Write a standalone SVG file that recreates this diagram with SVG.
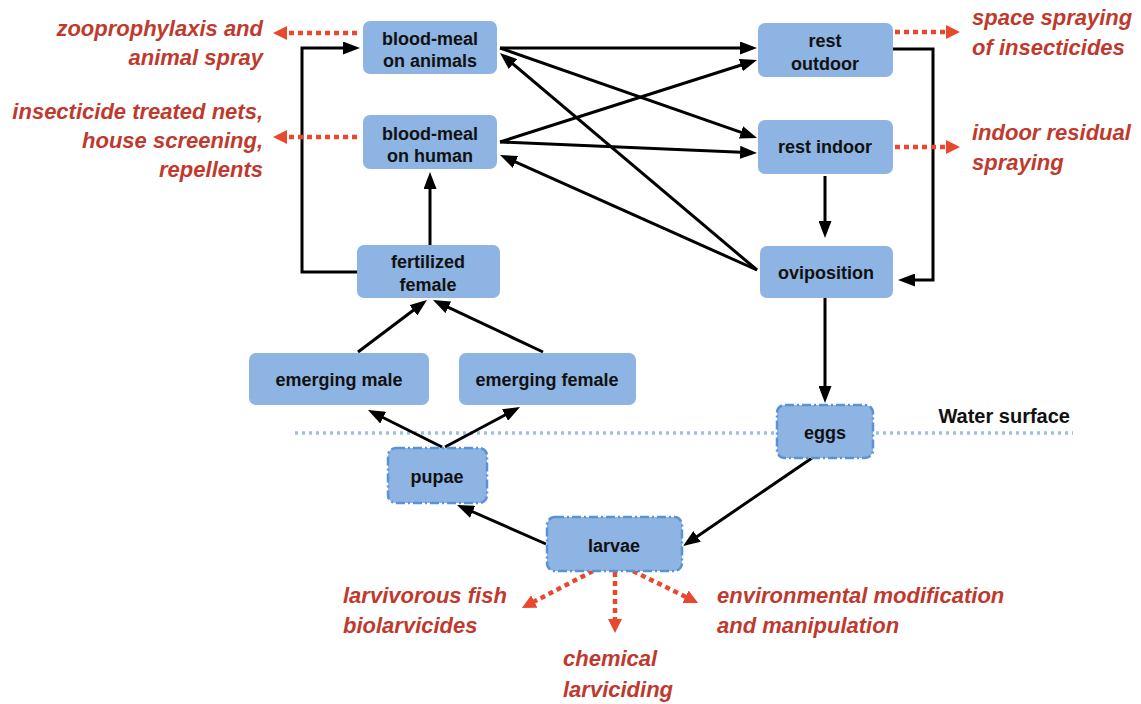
<svg xmlns="http://www.w3.org/2000/svg" width="1141" height="704" viewBox="0 0 1141 704">
<defs>
<style>
.box{fill:#8DB4E2;}
.dbox{fill:#8DB4E2;stroke:#5A92D2;stroke-width:2.5;stroke-dasharray:9 3 2 3;}
.lbl{font-family:"Liberation Sans",Arial,sans-serif;font-weight:bold;font-size:18px;fill:#111;text-anchor:middle;}
.ctl{font-family:"Liberation Sans",Arial,sans-serif;font-weight:bold;font-style:italic;font-size:22px;fill:#BF3A2E;}
.end{text-anchor:end;}
.blk{fill:none;stroke:#000;stroke-width:3;marker-end:url(#ah);}
.red{fill:none;stroke:#E8492E;stroke-width:4.5;stroke-dasharray:5 4;marker-end:url(#rh);}
.water{fill:none;stroke:#9DC0E4;stroke-width:3.5;stroke-dasharray:3 4;}
</style>
<marker id="ah" markerUnits="userSpaceOnUse" markerWidth="17" markerHeight="13" refX="7" refY="6.5" orient="auto">
<path d="M0,0 L17,6.5 L0,13 z" fill="#000"/>
</marker>
<marker id="rh" markerUnits="userSpaceOnUse" markerWidth="14" markerHeight="14" refX="4" refY="7" orient="auto">
<path d="M0,0 L14,7 L0,14 z" fill="#E8492E"/>
</marker>
</defs>
<rect width="1141" height="704" fill="#fff"/>

<line id="water-line" class="water" x1="295" y1="433" x2="1073" y2="433"/>
<text x="1070" y="423" style="font-family:'Liberation Sans',Arial,sans-serif;font-weight:bold;font-size:20px;fill:#111;text-anchor:end;">Water surface</text>

<g id="connectors">
<line class="blk" x1="500" y1="48" x2="747" y2="48"/>
<line class="blk" x1="500" y1="48" x2="747.6" y2="134.7"/>
<line class="blk" x1="757" y1="270" x2="507.6" y2="59.5"/>
<line class="blk" x1="500" y1="142" x2="747.5" y2="63"/>
<line class="blk" x1="500" y1="142" x2="747" y2="152.6"/>
<line class="blk" x1="757" y1="270" x2="509.1" y2="159.1"/>
<path class="blk" d="M893,49 H933 V280 H908"/>
<line class="blk" x1="825" y1="176" x2="825" y2="228"/>
<line class="blk" x1="825" y1="298" x2="825" y2="393"/>
<line class="blk" x1="812" y1="458" x2="691.3" y2="540.4"/>
<line class="blk" x1="546" y1="544" x2="466.2" y2="509"/>
<line class="blk" x1="442" y1="447" x2="376.9" y2="414.5"/>
<line class="blk" x1="445" y1="447" x2="511.2" y2="411.7"/>
<line class="blk" x1="358" y1="352" x2="419" y2="306"/>
<line class="blk" x1="543" y1="352" x2="442" y2="304.3"/>
<line class="blk" x1="430" y1="245" x2="430" y2="182"/>
<path class="blk" d="M358,272 H302 V48 H350"/>
<line class="red" x1="357" y1="33" x2="283" y2="33"/>
<line class="red" x1="357" y1="137" x2="283" y2="137"/>
<line class="red" x1="895" y1="32" x2="950" y2="32"/>
<line class="red" x1="895" y1="147" x2="950" y2="147"/>
<line class="red" x1="593" y1="571" x2="530.8" y2="603.3"/>
<line class="red" x1="615" y1="572" x2="615" y2="623"/>
<line class="red" x1="633" y1="571" x2="689.1" y2="598.5"/>
</g>

<g id="blood-meal-animals">
<rect class="box" x="363" y="21" width="134" height="53" rx="7"/>
<text class="lbl" x="430" y="45">blood-meal</text>
<text class="lbl" x="430" y="67">on animals</text>
</g>
<g id="blood-meal-human">
<rect class="box" x="363" y="115" width="134" height="54" rx="7"/>
<text class="lbl" x="430" y="140">blood-meal</text>
<text class="lbl" x="430" y="162">on human</text>
</g>
<g id="rest-outdoor">
<rect class="box" x="758" y="23" width="135" height="54" rx="7"/>
<text class="lbl" x="825" y="47">rest</text>
<text class="lbl" x="825" y="70">outdoor</text>
</g>
<g id="rest-indoor">
<rect class="box" x="758" y="120" width="135" height="54" rx="7"/>
<text class="lbl" x="825" y="153">rest indoor</text>
</g>
<g id="oviposition">
<rect class="box" x="760" y="246" width="133" height="52" rx="7"/>
<text class="lbl" x="826" y="279">oviposition</text>
</g>
<g id="fertilized-female">
<rect class="box" x="357" y="245" width="143" height="53" rx="7"/>
<text class="lbl" x="428" y="268">fertilized</text>
<text class="lbl" x="428" y="291">female</text>
</g>
<g id="emerging-male">
<rect class="box" x="249" y="353" width="180" height="52" rx="7"/>
<text class="lbl" x="339" y="386">emerging male</text>
</g>
<g id="emerging-female">
<rect class="box" x="459" y="353" width="177" height="52" rx="7"/>
<text class="lbl" x="547" y="386">emerging female</text>
</g>
<g id="eggs">
<rect class="dbox" x="777" y="405" width="96" height="53" rx="8"/>
<text class="lbl" x="825" y="439">eggs</text>
</g>
<g id="pupae">
<rect class="dbox" x="388" y="448" width="99" height="55" rx="8"/>
<text class="lbl" x="437" y="483">pupae</text>
</g>
<g id="larvae">
<rect class="dbox" x="547" y="517" width="135" height="54" rx="8"/>
<text class="lbl" x="614" y="552">larvae</text>
</g>

<g id="control-labels">
<text class="ctl end" x="263" y="36">zooprophylaxis and</text>
<text class="ctl end" x="263" y="65">animal spray</text>
<text class="ctl end" x="263" y="119">insecticide treated nets,</text>
<text class="ctl end" x="263" y="148">house screening,</text>
<text class="ctl end" x="263" y="177">repellents</text>
<text class="ctl" x="972" y="25">space spraying</text>
<text class="ctl" x="972" y="55">of insecticides</text>
<text class="ctl" x="972" y="140">indoor residual</text>
<text class="ctl" x="972" y="170">spraying</text>
<text class="ctl" x="343" y="603">larvivorous fish</text>
<text class="ctl" x="343" y="633">biolarvicides</text>
<text class="ctl" x="563" y="666">chemical</text>
<text class="ctl" x="563" y="697">larviciding</text>
<text class="ctl" x="717" y="603">environmental modification</text>
<text class="ctl" x="717" y="633">and manipulation</text>
</g>
</svg>
